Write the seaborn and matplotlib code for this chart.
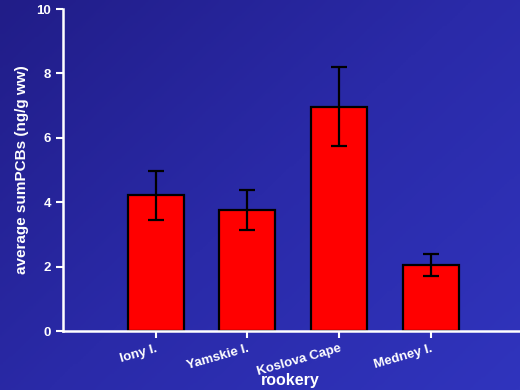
import numpy as np
import pandas as pd
import matplotlib
matplotlib.use("Agg")
import matplotlib.pyplot as plt
import seaborn as sns
from matplotlib.colors import LinearSegmentedColormap

# Mean summed PCB concentration per rookery, with error bar half-widths
rookeries = ["Iony I.", "Yamskie I.", "Koslova Cape", "Medney I."]
mean_pcb = [4.22, 3.76, 6.96, 2.05]
err_pcb = [0.76, 0.62, 1.23, 0.34]
y_ticks = [0, 2, 4, 6, 8, 10]

df = pd.DataFrame({"rookery": rookeries, "pcb": mean_pcb, "err": err_pcb})

sns.set_theme(style="ticks")
plt.rcParams["font.family"] = ["Liberation Sans", "DejaVu Sans"]

fig = plt.figure(figsize=(5.2, 3.9), dpi=100)

# Diagonal blue gradient backdrop
bg = fig.add_axes([0, 0, 1, 1], zorder=-1)
gx, gy = np.meshgrid(np.linspace(0, 1, 200), np.linspace(0, 1, 150))
grad = 0.55 * gx + 0.45 * gy
cmap = LinearSegmentedColormap.from_list("bg", ["#211d88", "#2a2aa8", "#3034bd"])
bg.imshow(grad, cmap=cmap, aspect="auto", extent=[0, 1, 0, 1], origin="upper")
bg.set_axis_off()

ax = fig.add_axes([63 / 520, 1 - 331 / 390, 1 - 63 / 520, (331 - 9) / 390])
ax.patch.set_alpha(0)

sns.barplot(data=df, x="rookery", y="pcb", color="#ff0000", saturation=1,
            edgecolor="black", linewidth=1.6, width=0.61, ax=ax)
ax.errorbar(np.arange(len(rookeries)), df["pcb"], yerr=df["err"], fmt="none",
            ecolor="black", elinewidth=1.6, capsize=5.5, capthick=1.6, zorder=5)

ax.set_xlim(-1.01, 3.97)
ax.set_ylim(0, 10)
ax.set_yticks(y_ticks)

white = "white"
for side in ["top", "right"]:
    ax.spines[side].set_visible(False)
for side in ["left", "bottom"]:
    ax.spines[side].set_color(white)
    ax.spines[side].set_linewidth(1.8)
ax.tick_params(axis="both", colors=white, width=1.5, length=5, direction="out")
ax.tick_params(axis="y", labelsize=9.5)
ax.set_yticklabels([str(t) for t in y_ticks], fontweight="bold", color=white)
ax.set_xticks(range(len(rookeries)))
ax.set_xticklabels(rookeries, rotation=16, ha="right", rotation_mode="anchor",
                   fontweight="bold", color=white, fontsize=9.5)

ax.set_xlabel("rookery", fontweight="bold", color=white, fontsize=11.5,
              va="center")
ax.xaxis.set_label_coords(0.497, -0.155)
ax.set_ylabel("average sumPCBs (ng/g ww)", fontweight="bold", color=white,
              fontsize=11, va="center")
ax.yaxis.set_label_coords(-0.0897, 0.5)

fig.savefig("out.png", dpi=100)
